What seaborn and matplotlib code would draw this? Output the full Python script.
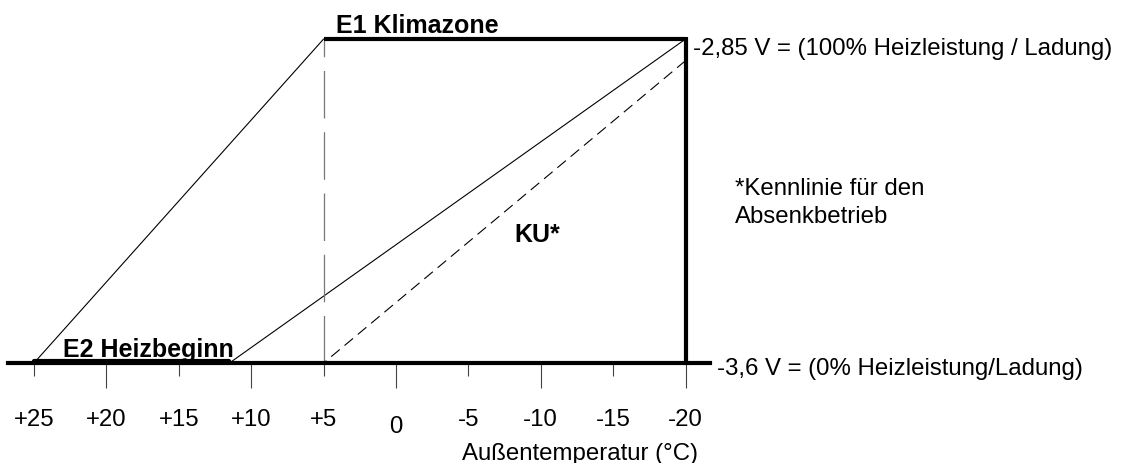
import matplotlib
matplotlib.use('Agg')
import matplotlib.pyplot as plt
import seaborn as sns
import pandas as pd

# Kennlinien (Außentemperatur in °C, Spannung in V)
v_min = -3.6
v_max = -2.85
t_start = 25      # E2 Heizbeginn (Klimazone)
t_klima = 5       # E1 Klimazone
t_end = -20
t_heiz = 11.5     # Heizbeginn der flachen Kennlinie
v_absenk_top = -2.9

# Achse
tick_major = [20, 10, 0, -10, -20]
tick_minor = [25, 15, 5, -5, -15]
tick_values = [25, 20, 15, 10, 5, 0, -5, -10, -15, -20]
tick_labels = ['+25', '+20', '+15', '+10', '+5', '0', '-5', '-10', '-15', '-20']

kennlinie_1 = pd.DataFrame({'t': [t_start, t_klima], 'v': [v_min, v_max]})
kennlinie_2 = pd.DataFrame({'t': [t_heiz, t_end], 'v': [v_min, v_max]})
kennlinie_ku = pd.DataFrame({'t': [t_klima, t_end], 'v': [v_min, v_absenk_top]})

sns.set_style('white')
plt.rcParams['font.family'] = ['Liberation Sans', 'DejaVu Sans']
plt.rcParams['text.color'] = 'black'

fig = plt.figure(figsize=(11.41, 4.64), dpi=100)
ax = fig.add_axes([0, 0, 1, 1])
ax.set_xlim(27.348, -51.45)
ax.set_ylim(-3.8315, -2.7574)

# dünne Kennlinien
sns.lineplot(data=kennlinie_1, x='t', y='v', color='black', lw=0.8, ax=ax)
sns.lineplot(data=kennlinie_2, x='t', y='v', color='black', lw=0.8, ax=ax)
sns.lineplot(data=kennlinie_ku, x='t', y='v', color='black', lw=0.8,
             linestyle=(0, (10, 5.6)), ax=ax)

# gestrichelte Senkrechte bei +5
ax.plot([t_klima, t_klima], [v_min, v_max], color='#777777', lw=0.9,
        linestyle=(0, (38, 11)))

# dicke Linien
ax.plot([t_klima, t_end], [v_max, v_max], color='black', lw=3, solid_capstyle='butt')
ax.plot([t_end, t_end], [v_min, v_max + 0.004], color='black', lw=3, solid_capstyle='butt')
ax.plot([t_start, t_heiz], [v_min + 0.005, v_min + 0.005], color='black', lw=3,
        solid_capstyle='round')

# Grundlinie als Achse
for s in ['top', 'left', 'right']:
    ax.spines[s].set_visible(False)
ax.spines['bottom'].set_position(('data', v_min))
ax.spines['bottom'].set_bounds(26.8, -21.7)
ax.spines['bottom'].set_linewidth(3)
ax.spines['bottom'].set_color('black')
ax.set_xticks(tick_major)
ax.set_xticks(tick_minor, minor=True)
ax.set_yticks([])
ax.tick_params(axis='x', which='major', direction='out', length=18, width=0.8,
               color='#444444', labelbottom=False, bottom=True)
ax.tick_params(axis='x', which='minor', direction='out', length=9.5, width=0.8,
               color='#444444', labelbottom=False, bottom=True)
ax.set_xlabel('')
ax.set_ylabel('')

fs = 17.3
fb = 18
for t, lab in zip(tick_values, tick_labels):
    y = -3.7602 if lab == '0' else -3.7440
    ax.text(t, y, lab, ha='center', va='baseline', fontsize=fs)

ax.text(-12.7, -3.822, 'Außentemperatur (°C)', ha='center', va='baseline', fontsize=fs)
ax.text(4.14, -2.8338, 'E1 Klimazone', ha='left', va='baseline', fontsize=fb, fontweight='bold')
ax.text(23.0, -3.5838, 'E2 Heizbeginn', ha='left', va='baseline', fontsize=fb, fontweight='bold')
ax.text(-8.2, -3.317, 'KU*', ha='left', va='baseline', fontsize=fb, fontweight='bold')
ax.text(-20.5, -2.8847, '-2,85 V = (100% Heizleistung / Ladung)', ha='left', va='baseline', fontsize=fs)
ax.text(-22.15, -3.6255, '-3,6 V = (0% Heizleistung/Ladung)', ha='left', va='baseline', fontsize=fs)
ax.text(-23.4, -3.2736, '*Kennlinie für den\nAbsenkbetrieb', ha='left', va='baseline',
        fontsize=fs, linespacing=1.35)

fig.savefig('out.png', dpi=100)
